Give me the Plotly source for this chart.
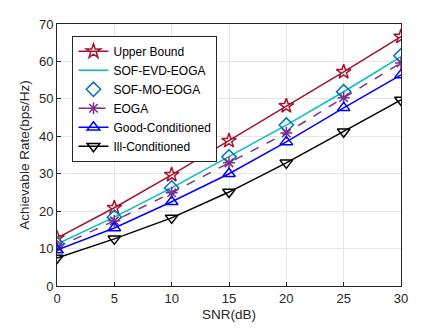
import plotly.graph_objects as go

snr = [0, 5, 10, 15, 20, 25, 30]
upper_bound = [12.8, 20.9, 29.7, 38.8, 48.1, 57.2, 66.6]
sof_evd_eoga = [11.2, 18.4, 26.2, 34.5, 43.0, 51.9, 61.3]
sof_mo_eoga = [11.2, 18.4, 26.2, 34.5, 43.0, 51.9, 61.5]
eoga = [10.4, 17.4, 24.9, 32.9, 40.9, 50.3, 59.6]
good_cond = [9.6, 15.5, 22.5, 30.0, 38.5, 47.6, 56.4]
ill_cond = [7.5, 12.6, 18.2, 25.1, 32.9, 41.2, 49.7]

fig = go.Figure()
fig.add_trace(go.Scatter(x=snr, y=upper_bound, name="Upper Bound", mode="lines+markers",
                         line=dict(color="#A2142F", width=1.5),
                         marker=dict(symbol="star-open", size=11, color="#A2142F", line=dict(width=1.5))))
fig.add_trace(go.Scatter(x=snr, y=sof_evd_eoga, name="SOF-EVD-EOGA", mode="lines",
                         line=dict(color="#00BFBF", width=1.5)))
fig.add_trace(go.Scatter(x=snr, y=sof_mo_eoga, name="SOF-MO-EOGA", mode="markers",
                         marker=dict(symbol="diamond-open", size=11, color="#0072BD", line=dict(width=1.5))))
fig.add_trace(go.Scatter(x=snr, y=eoga, name="EOGA", mode="lines+markers",
                         line=dict(color="#7E2F8E", width=1.5, dash="dash"),
                         marker=dict(symbol="asterisk-open", size=10, color="#7E2F8E", line=dict(width=1.5, color="#7E2F8E"))))
fig.add_trace(go.Scatter(x=snr, y=good_cond, name="Good-Conditioned", mode="lines+markers",
                         line=dict(color="#0000FF", width=1.5),
                         marker=dict(symbol="triangle-up-open", size=11, color="#0000FF", line=dict(width=1.5))))
fig.add_trace(go.Scatter(x=snr, y=ill_cond, name="Ill-Conditioned", mode="lines+markers",
                         line=dict(color="#000000", width=1.5),
                         marker=dict(symbol="triangle-down-open", size=11, color="#000000", line=dict(width=1.5))))

axis_common = dict(showline=True, linecolor="#262626", linewidth=1, mirror=True,
                   showgrid=True, gridcolor="#E6E6E6", gridwidth=1, zeroline=False,
                   ticks="inside", ticklen=4, tickcolor="#262626", automargin=False,
                   tickfont=dict(size=13, color="#262626"))

# page body has an 8px margin, so the figure is a bit smaller than the window
fig.update_layout(
    width=435, height=324,
    margin=dict(l=49, r=42, t=16, b=46),
    paper_bgcolor="white", plot_bgcolor="white",
    font=dict(family="Liberation Sans, Arial, sans-serif", color="#262626"),
    xaxis=dict(range=[0, 30], tickvals=[0, 5, 10, 15, 20, 25, 30],
               title=dict(text="SNR(dB)", font=dict(size=13.5), standoff=4), **axis_common),
    yaxis=dict(range=[0, 70], tickvals=[0, 10, 20, 30, 40, 50, 60, 70],
               title=dict(text="Achievable Rate(bps/Hz)", font=dict(size=13.5), standoff=6), **axis_common),
    legend=dict(x=0.045, y=0.955, xanchor="left", yanchor="top",
                bgcolor="white", bordercolor="#262626", borderwidth=1,
                font=dict(size=12, color="#000000"), tracegroupgap=0,
                itemwidth=30),
    showlegend=True,
)

fig.write_html("out.html")
